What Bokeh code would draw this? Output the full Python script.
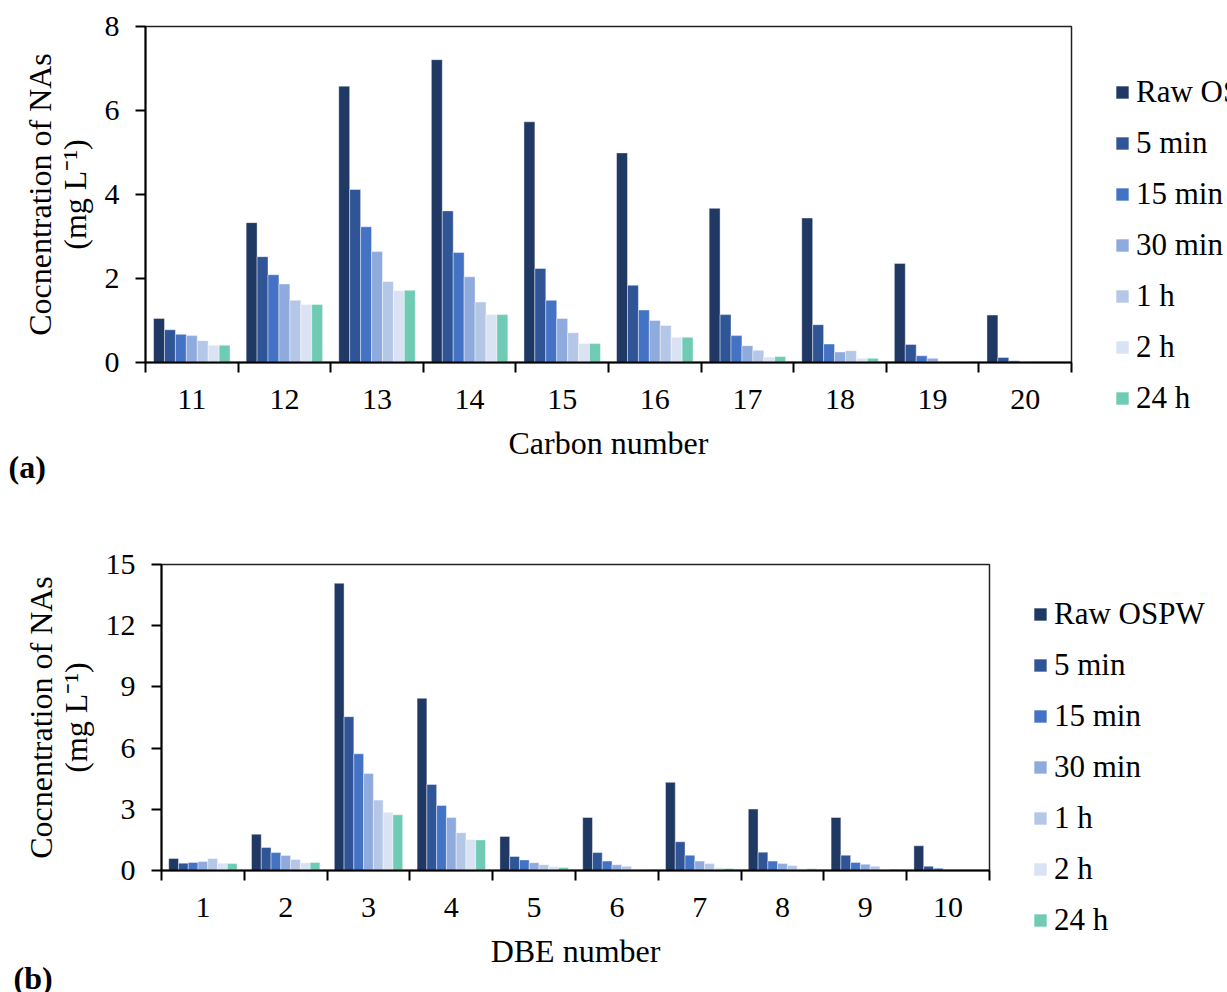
from bokeh.plotting import figure
from bokeh.models import ColumnDataSource, FixedTicker, Legend, LegendItem, Title
from bokeh.transform import dodge
from bokeh.embed import file_html
from bokeh.resources import INLINE

series = ["Raw OSPW", "5 min", "15 min", "30 min", "1 h", "2 h", "24 h"]
colors = ["#203864", "#2F5597", "#4472C4", "#8FAADC", "#B4C7E7", "#DAE3F3", "#6FCBB4"]

carbon = ["11", "12", "13", "14", "15", "16", "17", "18", "19", "20"]
raw_c = [1.05, 3.33, 6.58, 7.21, 5.73, 4.99, 3.67, 3.44, 2.36, 1.13]
m5_c = [0.78, 2.52, 4.12, 3.61, 2.24, 1.84, 1.14, 0.90, 0.43, 0.12]
m15_c = [0.67, 2.09, 3.23, 2.62, 1.48, 1.25, 0.64, 0.44, 0.16, 0.04]
m30_c = [0.64, 1.87, 2.64, 2.04, 1.05, 1.00, 0.40, 0.25, 0.10, 0.01]
h1_c = [0.52, 1.48, 1.93, 1.44, 0.71, 0.88, 0.29, 0.28, 0.02, 0.00]
h2_c = [0.41, 1.38, 1.71, 1.14, 0.45, 0.60, 0.13, 0.10, 0.01, 0.00]
h24_c = [0.41, 1.38, 1.72, 1.14, 0.45, 0.60, 0.14, 0.10, 0.02, 0.00]

dbe = ["1", "2", "3", "4", "5", "6", "7", "8", "9", "10"]
raw_d = [0.59, 1.78, 14.08, 8.44, 1.67, 2.60, 4.32, 3.01, 2.60, 1.21]
m5_d = [0.36, 1.13, 7.54, 4.22, 0.69, 0.88, 1.41, 0.90, 0.75, 0.21]
m15_d = [0.39, 0.88, 5.72, 3.19, 0.52, 0.46, 0.75, 0.46, 0.39, 0.11]
m30_d = [0.44, 0.74, 4.76, 2.60, 0.38, 0.28, 0.46, 0.34, 0.31, 0.02]
h1_d = [0.59, 0.54, 3.45, 1.85, 0.28, 0.21, 0.34, 0.25, 0.21, 0.01]
h2_d = [0.36, 0.38, 2.85, 1.52, 0.20, 0.05, 0.13, 0.08, 0.06, 0.00]
h24_d = [0.34, 0.39, 2.73, 1.50, 0.15, 0.03, 0.10, 0.08, 0.07, 0.00]

y_ticks_c = [0, 2, 4, 6, 8]
y_ticks_d = [0, 3, 6, 9, 12, 15]

FONT = "Liberation Serif"
YLABEL = "Cocnentration of NAs\n(mg L\u207b\u00b9)"


def make_chart(cats, values, yticks, xlabel, frame, borders, legend_opts, tag, tag_offset, tag_standoff):
    fw, fh = frame
    left, top, bottom = borders
    p = figure(frame_width=fw, frame_height=fh,
               x_range=(-0.5, len(cats) - 0.5),
               y_range=(yticks[0], yticks[-1]), output_backend="svg",
               toolbar_location=None, min_border_left=left, min_border_right=0,
               min_border_top=top, min_border_bottom=bottom)
    p.xgrid.visible = False
    p.ygrid.visible = False
    p.outline_line_color = "#222222"
    p.outline_line_width = 1.5
    data = {"x": list(range(len(cats)))}
    for s, v in zip(series, values):
        data[s] = v
    src = ColumnDataSource(data)
    w = 0.118
    items = []
    for j, (s, c) in enumerate(zip(series, colors)):
        r = p.vbar(x=dodge("x", (j - 3) * w), top=s, width=w, source=src,
                   fill_color=c, line_color="white", line_width=0.6, line_alpha=0.7)
        items.append(LegendItem(label=s, renderers=[r]))

    xa = p.xaxis[0]
    xa.ticker = FixedTicker(ticks=list(range(len(cats))),
                            minor_ticks=[i - 0.5 for i in range(len(cats) + 1)])
    xa.major_label_overrides = {i: c for i, c in enumerate(cats)}
    xa.major_tick_out = 0
    xa.major_tick_in = 0
    xa.minor_tick_out = 10
    xa.minor_tick_in = 0
    xa.minor_tick_line_color = "black"
    xa.minor_tick_line_width = 2
    xa.major_label_standoff = 17
    xa.axis_label = xlabel
    xa.axis_label_standoff = 13

    ya = p.yaxis[0]
    ya.ticker = FixedTicker(ticks=yticks)
    ya.major_tick_out = 10
    ya.major_tick_in = 0
    ya.minor_tick_out = 0
    ya.minor_tick_in = 0
    ya.major_tick_line_width = 2
    ya.major_label_standoff = 16
    ya.axis_label = YLABEL
    ya.axis_label_standoff = 9
    ya.axis_label_text_line_height = 0.95

    for ax in (xa, ya):
        ax.axis_line_color = "black"
        ax.axis_line_width = 2
        ax.major_tick_line_color = "black"
        ax.major_label_text_font = FONT
        ax.major_label_text_font_size = "30px"
        ax.major_label_text_color = "black"
        ax.axis_label_text_font = FONT
        ax.axis_label_text_font_size = "32px"
        ax.axis_label_text_font_style = "normal"
        ax.axis_label_text_color = "black"

    loc, lh, sp = legend_opts
    legend = Legend(items=items, location=loc, orientation="vertical",
                    label_text_font=FONT, label_text_font_size="31px",
                    label_text_color="black", glyph_width=16, glyph_height=16,
                    label_height=lh, label_standoff=6, spacing=sp, padding=0, margin=43,
                    border_line_color=None, background_fill_alpha=0)
    p.add_layout(legend, "right")

    p.add_layout(Title(text=tag, align="left", offset=tag_offset, text_font=FONT,
                       text_font_size="32px", text_font_style="bold",
                       text_color="black", standoff=tag_standoff), "below")
    return p


p1 = make_chart(carbon, [raw_c, m5_c, m15_c, m30_c, h1_c, h2_c, h24_c], y_ticks_c,
                "Carbon number", (926, 336), (145, 26, 134), ("top_left", 46, 5),
                "(a)", -137, -42)
p2 = make_chart(dbe, [raw_d, m5_d, m15_d, m30_d, h1_d, h2_d, h24_d], y_ticks_d,
                "DBE number", (828, 306), (161, 68, 122), ((43, -68), 36, 15),
                "(b)", -148, -27)

open("out.html", "w").write(file_html([p1, p2], INLINE))
